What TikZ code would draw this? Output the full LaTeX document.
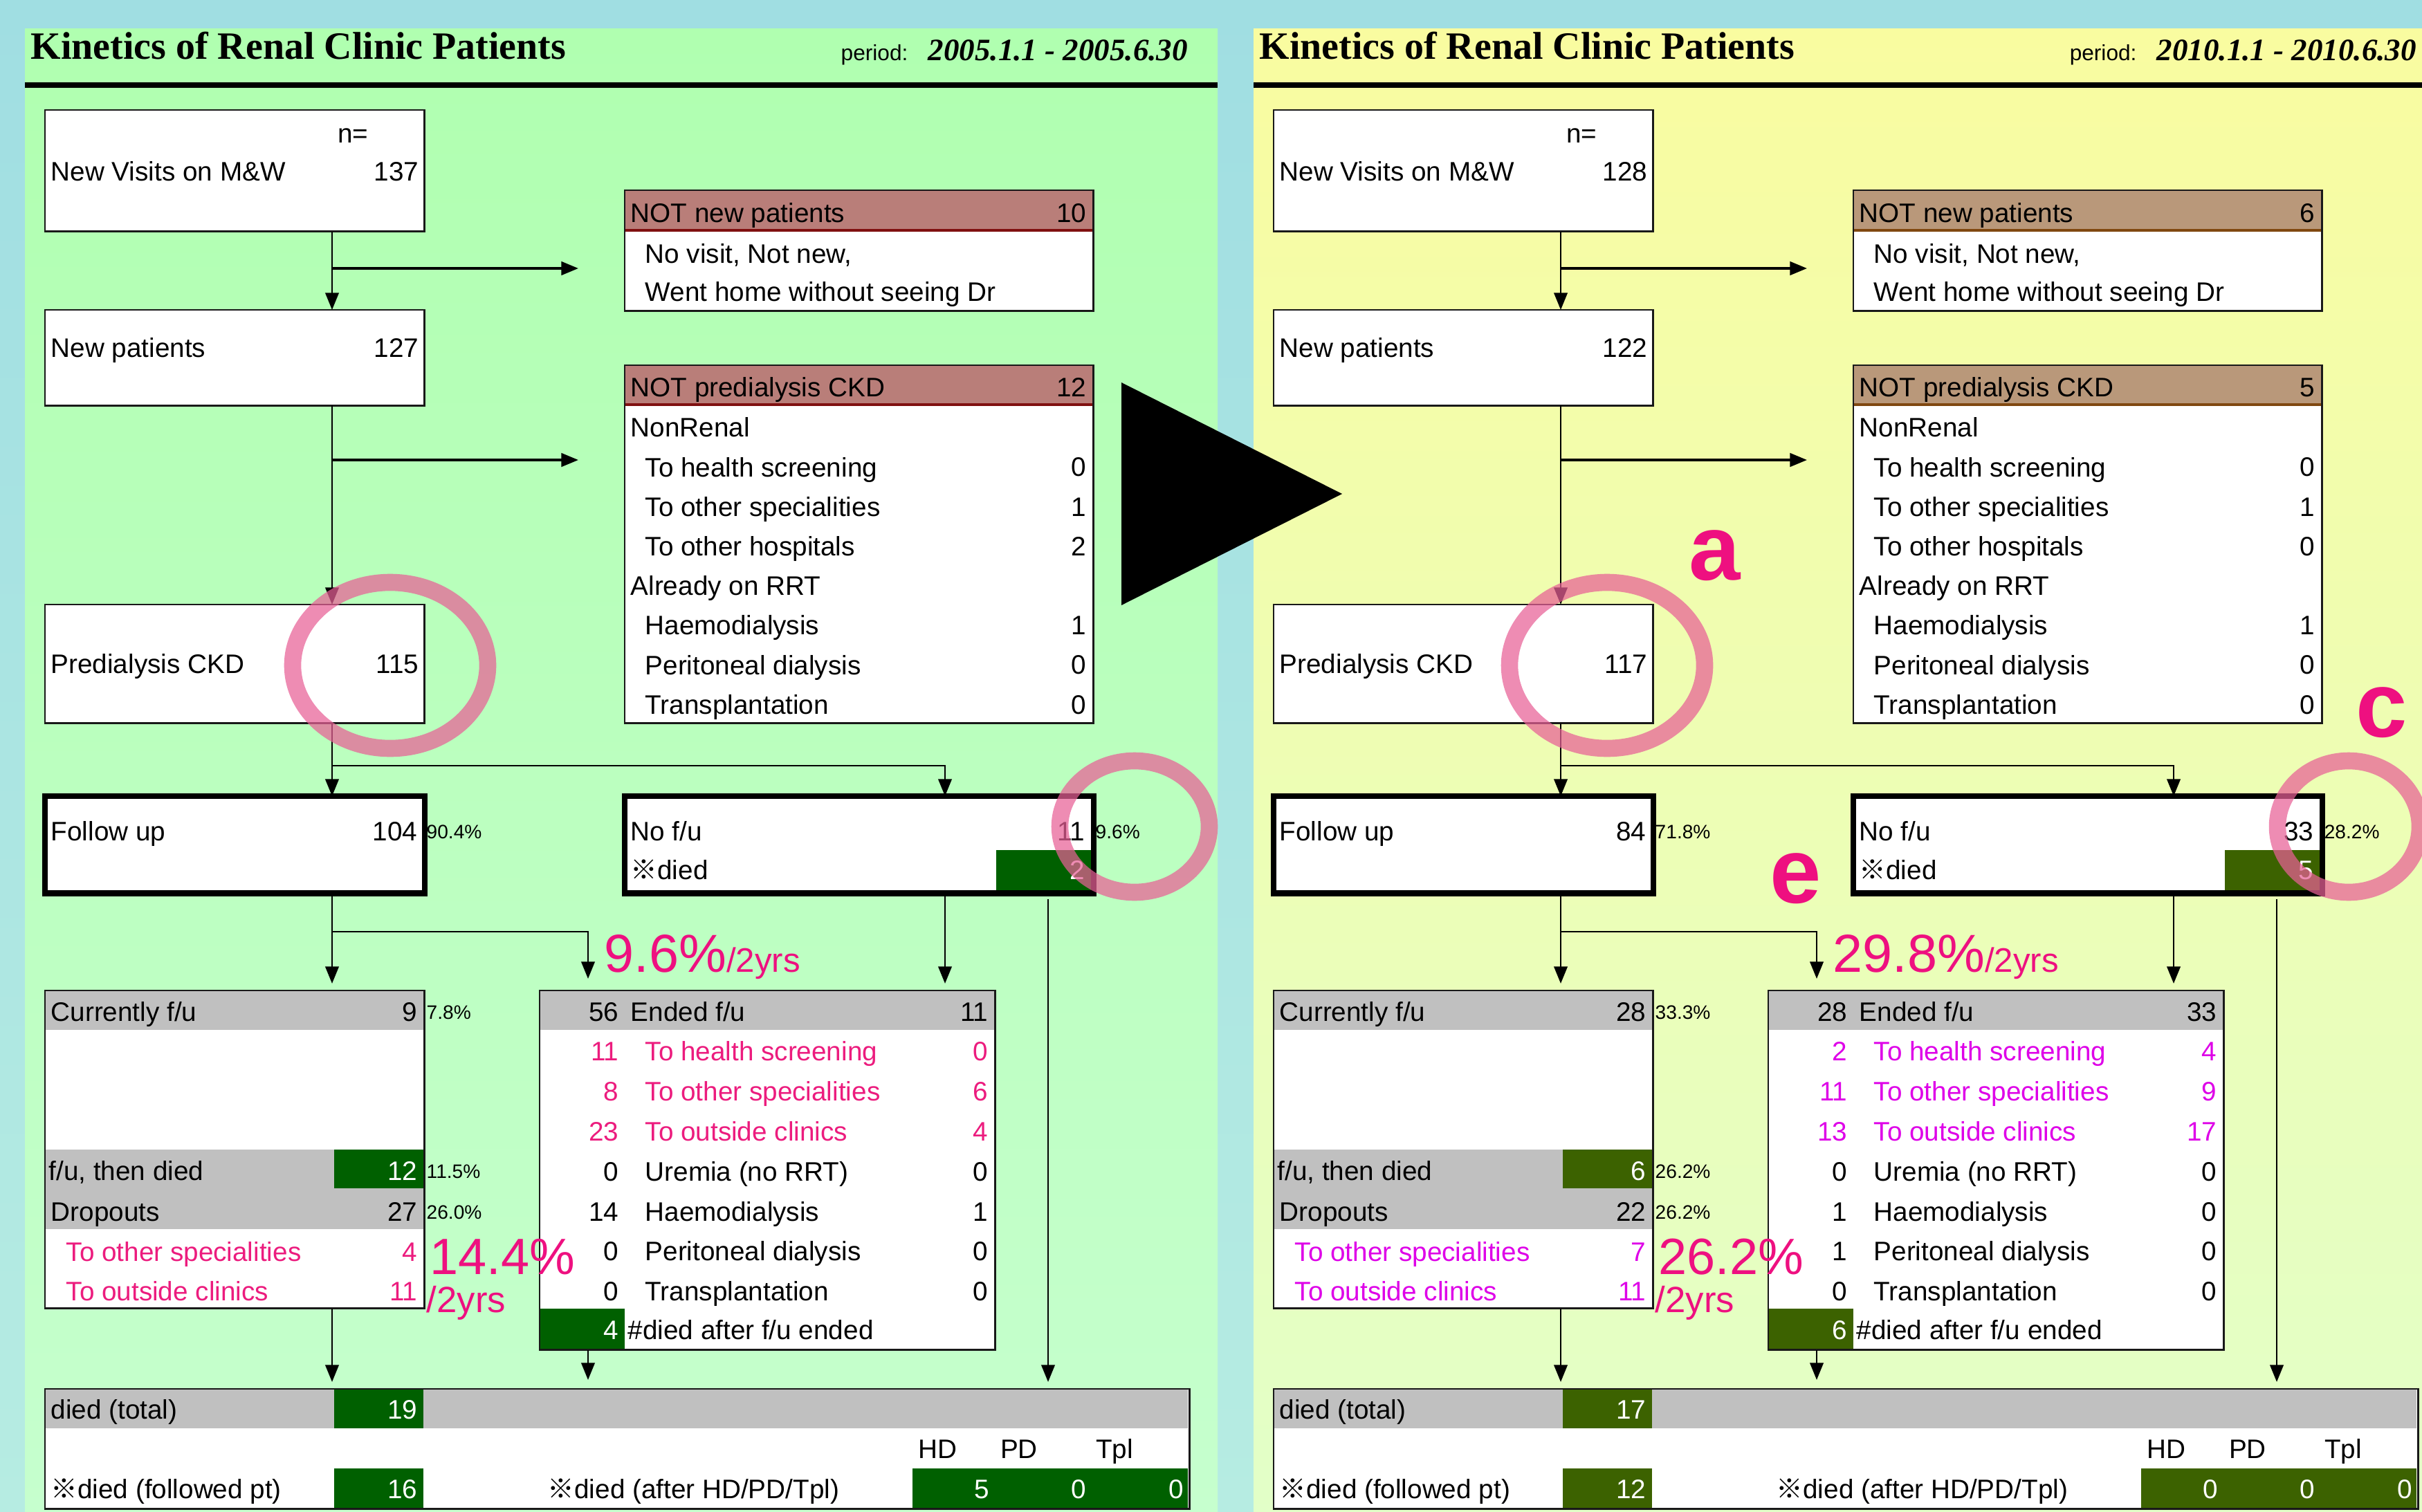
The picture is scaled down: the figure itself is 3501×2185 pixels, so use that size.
\documentclass[tikz,border=0pt]{standalone}
\usepackage{fontspec}
\setmainfont{Liberation Sans}
\newfontfamily\titlefont{Liberation Serif}
\newfontfamily\cjkfont{Noto Sans CJK JP}
\usetikzlibrary{arrows.meta,positioning,calc}
\newcommand{\kome}{{\cjkfont ※}}
\definecolor{bgTop}{RGB}{160,222,226}
\definecolor{bgBot}{RGB}{182,236,226}
\definecolor{grnTop}{RGB}{176,255,176}
\definecolor{grnBot}{RGB}{198,255,206}
\definecolor{yelTop}{RGB}{249,252,160}
\definecolor{yelBot}{RGB}{226,255,200}
\definecolor{hdrL}{RGB}{185,126,121}
\definecolor{hdrR}{RGB}{185,152,122}
\definecolor{hdlnL}{RGB}{128,16,16}
\definecolor{hdlnR}{RGB}{128,72,16}
\definecolor{cellL}{RGB}{0,96,0}
\definecolor{cellR}{RGB}{60,98,0}
\definecolor{pinkL}{RGB}{236,28,126}
\definecolor{magR}{RGB}{222,0,232}
\definecolor{hot}{RGB}{238,16,128}
\definecolor{ring}{RGB}{232,96,150}
\definecolor{grayrow}{RGB}{192,192,192}
\tikzset{
  txt/.style={font=\fontsize{11}{13}\selectfont,inner sep=0pt,
    text height=7.9pt,text depth=0pt},
  lbl/.style={txt,anchor=west},
  val/.style={txt,anchor=east},
  wval/.style={val,text=white},
  pct/.style={font=\fontsize{8}{9}\selectfont,inner sep=0pt,
    text height=5.8pt,text depth=0pt,anchor=west},
  box/.style={rectangle,fill=white,inner sep=0pt,anchor=north west},
  frame/.style={draw=black!90,line width=0.8pt},
  thickframe/.style={draw=black,line width=2.3pt},
  hdr/.style={fill=hdrc},
  hdline/.style={draw=hdlc,line width=1.2pt},
  cell/.style={fill=cellc},
  rowpink/.style={text=rowcol},
  arrow/.style={-{Triangle[length=7pt,width=5.5pt]},line width=0.8pt},
  big/.style={text=hot,inner sep=0pt,anchor=base west},
  letter/.style={text=hot,font=\fontsize{38}{40}\selectfont\bfseries,inner sep=0pt},
  oval/.style={draw=ring,draw opacity=0.72,line width=7pt}
}
% one panel of the kinetics sheet, values come from \p... macros
\newcommand{\kpanel}{%
  \shade[panel] (36,42) rectangle (1760,2200);
  \node[anchor=base west,inner sep=0pt,
        font=\titlefont\bfseries\fontsize{15.9}{17}\selectfont]
    (title) at (44,86) {Kinetics of Renal Clinic Patients};
  \node[anchor=base west,inner sep=0pt,font=\fontsize{9}{10}\selectfont]
    (period) at (1215,88) {period:};
  \node[anchor=base west,inner sep=0pt,
        font=\titlefont\bfseries\itshape\fontsize{12.8}{14}\selectfont]
    (date) at (1341,88) {\pDate};
  \draw[line width=2.4pt] (36,123) -- (1760,123);

  \node[box,minimum width=5.47cm,minimum height=1.74cm] (visits) at (65,159) {};
  \node[box,minimum width=6.76cm,minimum height=1.73cm] (notnew) at (903,275) {};
  \node[box,minimum width=5.47cm,minimum height=1.37cm] (newpt) at (65,448) {};
  \node[box,minimum width=6.76cm,minimum height=5.16cm] (notckd) at (903,528) {};
  \node[box,minimum width=5.47cm,minimum height=1.70cm] (ckd) at (65,874) {};
  \node[box,minimum width=5.47cm,minimum height=1.39cm] (fu) at (65,1151) {};
  \node[box,minimum width=6.76cm,minimum height=1.39cm] (nofu) at (903,1151) {};
  \node[box,minimum width=5.47cm,minimum height=4.58cm] (curfu) at (65,1432) {};
  \node[box,minimum width=6.57cm,minimum height=5.18cm] (ended) at (780,1432) {};
  \node[box,minimum width=16.52cm,minimum height=1.72cm] (died) at (65,2008) {};

  \fill[hdr] (903,275) rectangle (1579,333);
  \draw[hdline] (903,333) -- (1579,333);
  \fill[hdr] (903,528) rectangle (1579,585);
  \draw[hdline] (903,585) -- (1579,585);
  \fill[cell] (1440,1229) rectangle (1579,1290);
  \fill[grayrow] (65,1432) rectangle (612,1489);
  \fill[grayrow] (65,1662) rectangle (612,1777);
  \fill[cell] (483,1662) rectangle (612,1718);
  \fill[grayrow] (780,1432) rectangle (1437,1489);
  \fill[cell] (780,1892) rectangle (903,1950);
  \fill[grayrow] (65,2008) rectangle (1717,2065);
  \fill[cell] (483,2008) rectangle (612,2065);
  \fill[cell] (483,2123) rectangle (612,2180);
  \fill[cell] (1319,2123) rectangle (1717,2180);

  \foreach \b in {visits,notnew,newpt,notckd,ckd,curfu,ended,died}
    \draw[frame] (\b.north west) rectangle (\b.south east);
  \foreach \b in {fu,nofu}
    \draw[thickframe] (\b.north west) rectangle (\b.south east);

  \node[txt,anchor=east] (visitsn) at (533,193) {n=};
  \node[lbl] (visitslbl) at (73,248) {New Visits on M\&W};
  \node[val] (visitsval) at (606,248) {\pVisits};
  \node[lbl] (notnewlbl) at (911,308) {NOT new patients};
  \node[val] (notnewval) at (1571,308) {\pNotNew};
  \node[lbl] (notnewa) at (932,367) {No visit, Not new,};
  \node[lbl] (notnewb) at (932,422) {Went home without seeing Dr};
  \node[lbl] (newptlbl) at (73,503) {New patients};
  \node[val] (newptval) at (606,503) {\pNew};
  \node[lbl] (notckdlbl) at (911,560) {NOT predialysis CKD};
  \node[val] (notckdval) at (1571,560) {\pNotCKD};
  \foreach \t/\x [count=\r] in {NonRenal/911,To health screening/932,
      To other specialities/932,To other hospitals/932,Already on RRT/911,
      Haemodialysis/932,Peritoneal dialysis/932,Transplantation/932}
    \node[lbl] (ckdrow\r) at (\x,{618+57.2*(\r-1)}) {\t};
  \foreach \v [count=\i,evaluate=\i as \r using {ifthenelse(\i<4,\i,\i+1)}] in \pCKDrows
    \node[val] (ckdval\i) at (1571,{675+57.2*(\r-1)}) {\v};
  \node[lbl] (ckdlbl) at (73,960) {Predialysis CKD};
  \node[val] (ckdvalue) at (606,960) {\pCKD};

  \node[lbl] (fulbl) at (73,1202) {Follow up};
  \node[val] (fuval) at (604,1202) {\pFU};
  \node[pct] (fupc) at (616,1202) {\pFUpc};
  \node[lbl] (nofulbl) at (911,1202) {No f/u};
  \node[val] (nofuval) at (1569,1202) {\pNoFU};
  \node[pct] (nofupc) at (1583,1202) {\pNoFUpc};
  \node[lbl] (nofudied) at (911,1258) {\kome died};
  \node[wval] (nofudiedval) at (1569,1258) {\pNoFUdied};

  \node[lbl] (curlbl) at (73,1463) {Currently f/u};
  \node[val] (curval) at (604,1463) {\pCur};
  \node[pct] (curpc) at (616,1463) {\pCurpc};
  \node[lbl] (cdiedlbl) at (70,1693) {f/u, then died};
  \node[wval] (cdiedval) at (604,1693) {\pFUdied};
  \node[pct] (cdiedpc) at (616,1693) {\pFUdiedpc};
  \node[lbl] (droplbl) at (73,1752) {Dropouts};
  \node[val] (dropval) at (604,1752) {\pDrop};
  \node[pct] (droppc) at (616,1752) {\pDroppc};
  \node[lbl,rowpink] (dropa) at (95,1810) {To other specialities};
  \node[val,rowpink] (dropaval) at (604,1810) {\pDropOther};
  \node[lbl,rowpink] (dropb) at (95,1867) {To outside clinics};
  \node[val,rowpink] (dropbval) at (604,1867) {\pDropOut};

  \node[val] (endlval) at (895,1463) {\pEnd};
  \node[lbl] (endlbl) at (911,1463) {Ended f/u};
  \node[val] (endrval) at (1429,1463) {\pEndR};
  \foreach \t [count=\i] in {To health screening,To other specialities,
      To outside clinics,Uremia (no RRT),Haemodialysis,Peritoneal dialysis,
      Transplantation}{
    \ifnum\i<4 \colorlet{rc}{rowcol}\else\colorlet{rc}{black}\fi
    \node[lbl,text=rc] (endrow\i) at (932,{1520+57.8*(\i-1)}) {\t};
  }
  \foreach \a/\b [count=\i] in \pEndRows {
    \ifnum\i<4 \colorlet{rc}{rowcol}\else\colorlet{rc}{black}\fi
    \node[val,text=rc] (endl\i) at (895,{1520+57.8*(\i-1)}) {\a};
    \node[val,text=rc] (endr\i) at (1429,{1520+57.8*(\i-1)}) {\b};
  }
  \node[wval] (endcellval) at (895,1923) {\pEndDied};
  \node[lbl] (enddiedlbl) at (907,1923) {\#died after f/u ended};

  \node[lbl] (diedlbl) at (73,2038) {died (total)};
  \node[wval] (diedval) at (604,2038) {\pDied};
  \node[txt] (hdlbl) at (1355,2095) {HD};
  \node[txt] (pdlbl) at (1473,2095) {PD};
  \node[txt] (tpllbl) at (1611,2095) {Tpl};
  \node[lbl] (follbl) at (73,2153) {\kome died (followed pt)};
  \node[wval] (folval) at (604,2153) {\pFol};
  \node[lbl] (rrtlbl) at (791,2153) {\kome died (after HD/PD/Tpl)};
  \node[wval] (hdval) at (1431,2153) {\pHD};
  \node[wval] (pdval) at (1571,2153) {\pPD};
  \node[wval] (tplval) at (1712,2153) {\pTpl};

  \node[big] (bigA) at (873,1405)
    {\fontsize{22}{24}\selectfont\pBigA\fontsize{14}{16}\selectfont/2yrs};
  \node[big] (bigB) at (621,1842) {\fontsize{21}{23}\selectfont\pBigB};
  \node[big] (bigC) at (616,1897) {\fontsize{15}{17}\selectfont/2yrs};

  % connectors
  \coordinate (spine) at (480,0);
  \coordinate (colB) at (850,0);
  \coordinate (colC) at (1366,0);
  \coordinate (colD) at (1515,0);
  \coordinate (toNotNew) at (836,388);
  \coordinate (toNotCKD) at (836,665);
  \coordinate (splitA) at (480,1107);
  \coordinate (splitB) at (480,1347);
  \coordinate (toEnded) at (850,1415);
  \coordinate (toDied) at (850,1995);
  \draw[arrow] (visits.south -| spine) -- (newpt.north -| spine);
  \draw[arrow,line width=1pt] (spine |- toNotNew) -- (toNotNew);
  \draw[arrow] (newpt.south -| spine) -- (ckd.north -| spine);
  \draw[arrow,line width=1pt] (spine |- toNotCKD) -- (toNotCKD);
  \draw[arrow] (ckd.south -| spine) -- (fu.north -| spine);
  \draw[arrow] (splitA) -| (nofu.north -| colC);
  \draw[arrow,shorten >=1mm] (fu.south -| spine) -- (curfu.north -| spine);
  \draw[arrow] (splitB) -| (toEnded);
  \draw[arrow,shorten >=1mm] (nofu.south -| colC) -- (ended.north -| colC);
  \draw[arrow,shorten >=1mm] (curfu.south -| spine) -- (died.north -| spine);
  \draw[arrow] (ended.south -| colB) -- (toDied);
  \draw[arrow,shorten <=0.8mm,shorten >=1mm] (nofu.south -| colD) -- (died.north -| colD);
}

\begin{document}
\begin{tikzpicture}[x=0.01cm,y=-0.01cm]
  \useasboundingbox (0,0) rectangle (3501,2185);
  \shade[top color=bgTop,bottom color=bgBot] (0,0) rectangle (3501,2185);

  \begin{scope}[name prefix=L-,panel/.style={top color=grnTop,bottom color=grnBot}]
    \colorlet{hdrc}{hdrL}\colorlet{hdlc}{hdlnL}
    \colorlet{cellc}{cellL}\colorlet{rowcol}{pinkL}
    \def\pDate{2005.1.1 - 2005.6.30}
    \def\pVisits{137}\def\pNotNew{10}\def\pNew{127}\def\pNotCKD{12}
    \def\pCKDrows{0,1,2,1,0,0}\def\pCKD{115}
    \def\pFU{104}\def\pFUpc{90.4\%}\def\pNoFU{11}\def\pNoFUpc{9.6\%}\def\pNoFUdied{2}
    \def\pCur{9}\def\pCurpc{7.8\%}\def\pFUdied{12}\def\pFUdiedpc{11.5\%}
    \def\pDrop{27}\def\pDroppc{26.0\%}\def\pDropOther{4}\def\pDropOut{11}
    \def\pEnd{56}\def\pEndR{11}
    \def\pEndRows{11/0,8/6,23/4,0/0,14/1,0/0,0/0}\def\pEndDied{4}
    \def\pDied{19}\def\pFol{16}\def\pHD{5}\def\pPD{0}\def\pTpl{0}
    \def\pBigA{9.6\%}\def\pBigB{14.4\%}
    \kpanel
    \draw[oval] (564,962) ellipse [x radius=141,y radius=120];
    \draw[oval] (1640,1195) ellipse [x radius=108,y radius=95];
  \end{scope}

  \begin{scope}[shift={(1776,0)},name prefix=R-,
                panel/.style={top color=yelTop,bottom color=yelBot}]
    \colorlet{hdrc}{hdrR}\colorlet{hdlc}{hdlnR}
    \colorlet{cellc}{cellR}\colorlet{rowcol}{magR}
    \def\pDate{2010.1.1 - 2010.6.30}
    \def\pVisits{128}\def\pNotNew{6}\def\pNew{122}\def\pNotCKD{5}
    \def\pCKDrows{0,1,0,1,0,0}\def\pCKD{117}
    \def\pFU{84}\def\pFUpc{71.8\%}\def\pNoFU{33}\def\pNoFUpc{28.2\%}\def\pNoFUdied{5}
    \def\pCur{28}\def\pCurpc{33.3\%}\def\pFUdied{6}\def\pFUdiedpc{26.2\%}
    \def\pDrop{22}\def\pDroppc{26.2\%}\def\pDropOther{7}\def\pDropOut{11}
    \def\pEnd{28}\def\pEndR{33}
    \def\pEndRows{2/4,11/9,13/17,0/0,1/0,1/0,0/0}\def\pEndDied{6}
    \def\pDied{17}\def\pFol{12}\def\pHD{0}\def\pPD{0}\def\pTpl{0}
    \def\pBigA{29.8\%}\def\pBigB{26.2\%}
    \kpanel
    \draw[oval] (547,962) ellipse [x radius=141,y radius=120];
    \draw[oval] (1619,1195) ellipse [x radius=103,y radius=95];
    \node[letter] (a) at (703,803) {a};
    \node[letter] (c) at (1667,1030) {c};
    \node[letter] (e) at (820,1270) {e};
  \end{scope}

  \fill (1621,553) -- (1940,714) -- (1621,875) -- cycle;
\end{tikzpicture}
\end{document}
